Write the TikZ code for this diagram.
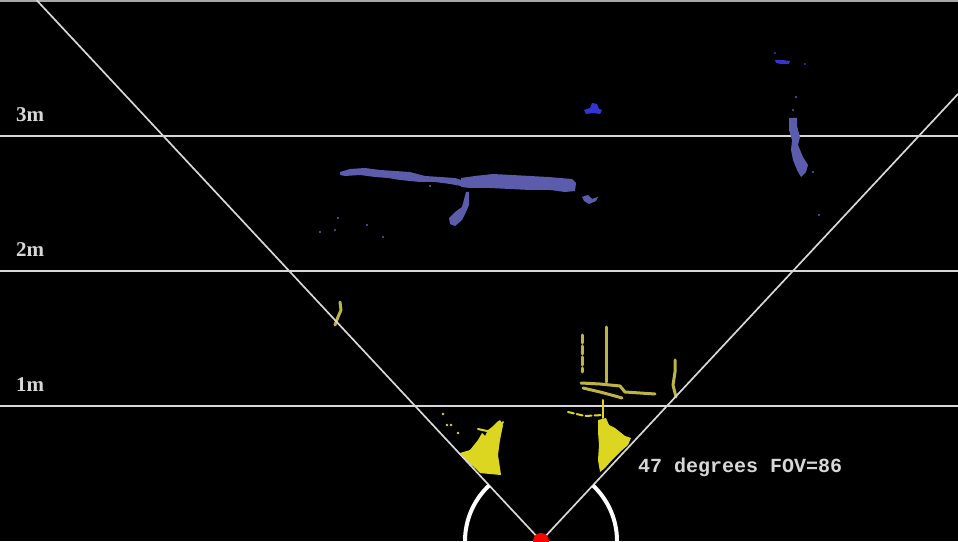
\documentclass[tikz,border=0pt]{standalone}
\usepackage{fontspec}
\setmonofont{Liberation Mono}
\newfontfamily\labelfont{Liberation Serif}
\usetikzlibrary{calc}
\definecolor{gridgray}{RGB}{215,215,215}
\definecolor{nearyellow}{RGB}{220,214,32}
\definecolor{midolive}{RGB}{190,180,70}
\definecolor{farblue}{RGB}{92,92,172}
\definecolor{deepblue}{RGB}{52,52,210}
\tikzset{
  rangeline/.style={draw=gridgray, line width=1.7pt},
  fovline/.style={draw=gridgray, line width=1.7pt},
  fovarc/.style={draw=white, line width=4pt},
  rangelabel/.style={anchor=west, inner sep=0pt, text=gridgray, font=\labelfont\bfseries\fontsize{21}{21}\selectfont},
  fovlabel/.style={anchor=west, inner sep=0pt, text=gridgray, font=\ttfamily\bfseries\fontsize{20}{20}\selectfont},
  nearpts/.style={fill=nearyellow, draw=none},
  midpts/.style={draw=midolive, line width=3pt, line cap=round, line join=round},
  farpts/.style={fill=farblue, draw=none},
  toppts/.style={fill=deepblue, draw=none},
}
\begin{document}
\begin{tikzpicture}[x=1pt, y=1pt]
  % Background
  \fill[black] (0,0) rectangle (958,541);
  \useasboundingbox (0,0) rectangle (958,541);
  \draw[draw=gray!70, line width=2pt] (0,540) -- (958,540);

  % Sensor and field of view
  \coordinate (sensor) at (541,0);
  \coordinate (fovL) at (36.5,541);
  \coordinate (fovR) at (958,447);

  % Range lines
  \coordinate (r1L) at (0,135);   \coordinate (r1R) at (958,135);
  \coordinate (r2L) at (0,270);   \coordinate (r2R) at (958,270);
  \coordinate (r3L) at (0,405);   \coordinate (r3R) at (958,405);
  \draw[rangeline] (r1L) -- (r1R);
  \draw[rangeline] (r2L) -- (r2R);
  \draw[rangeline] (r3L) -- (r3R);
  \node[rangelabel] (m1) at (16,156) {1m};
  \node[rangelabel] (m2) at (16,291) {2m};
  \node[rangelabel] (m3) at (16,426) {3m};

  % Point cloud (image coordinates)
  \begin{scope}[yshift=541pt, yscale=-1]
    % far wall
    \fill[farpts] (461,178) -- (475,176) -- (493,174) -- (512,175) -- (530,176) -- (548,177)
      -- (560,178) -- (572,179) -- (576,183) -- (575,191) -- (565,192) -- (550,190)
      -- (530,190) -- (510,189) -- (490,188) -- (470,188) -- (461,187) -- cycle;
    \fill[farpts] (340,172) -- (350,169) -- (365,168) -- (380,170) -- (395,171) -- (410,172)
      -- (425,176) -- (440,177) -- (455,178) -- (461,180) -- (461,186) -- (450,184)
      -- (435,182) -- (420,182) -- (410,181) -- (400,180) -- (388,178) -- (375,177)
      -- (360,175) -- (345,176) -- (340,175) -- cycle;
    \fill[farpts] (466,192) -- (469,192) -- (469,205) -- (466,212) -- (462,220) -- (455,226)
      -- (450,224) -- (449,218) -- (455,212) -- (462,207) -- cycle;
    \fill[farpts] (582,197) -- (588,195) -- (592,199) -- (598,197) -- (596,201) -- (589,204)
      -- (584,201) -- cycle;
    \foreach \px/\py in {338/218, 335/230, 367/225, 383/237, 320/232, 398/172, 430/186}
      \fill[farpts] (\px,\py) circle (1.2);
    % far right post
    \fill[farpts] (789,118) -- (797,118) -- (797,126) -- (800,137) -- (798,145) -- (803,157)
      -- (808,165) -- (806,172) -- (801,177) -- (797,170) -- (793,160) -- (791,150)
      -- (792,140) -- (789,130) -- cycle;
    \foreach \px/\py in {796/97, 793/110, 813/172, 819/215}
      \fill[farpts] (\px,\py) circle (1.2);
    % top blobs
    \fill[toppts] (584,110) -- (590,108) -- (592,103) -- (597,104) -- (599,109) -- (602,110)
      -- (600,114) -- (593,113) -- (586,114) -- cycle;
    \fill[toppts] (775,60) -- (782,60) -- (790,61) -- (789,64) -- (781,64) -- (776,63) -- cycle;
    \foreach \px/\py in {775/53, 805/64}
      \fill[toppts] (\px,\py) circle (1.2);
    % middle returns
    \draw[midpts] (606,327) -- (606,382);
    \draw[midpts, dash pattern=on 8pt off 3pt] (582,335) -- (582,372);
    \draw[midpts] (581,383) -- (600,384) -- (620,386) -- (625,392) -- (640,393) -- (655,394);
    \draw[midpts] (583,388) -- (600,392) -- (615,396) -- (622,398);
    \draw[midpts] (675,360) -- (675,372) -- (673,385) -- (676,397);
    \draw[midpts] (340,302) -- (341,310) -- (338,317) -- (335,325);
    % near returns
    \fill[nearpts] (460,453) -- (470,450) -- (478,440) -- (482,433) -- (485,436) -- (488,430)
      -- (492,427) -- (494,425) -- (497,422) -- (500,420) -- (503,425) -- (500,440)
      -- (498,455) -- (500,468) -- (501,475) -- (490,474) -- (480,473) -- (475,468)
      -- (468,462) -- cycle;
    \draw[midpts, draw=nearyellow, line width=2pt] (478,429) -- (487,431) -- (495,432) -- (503,422);
    \foreach \px/\py in {443/414, 447/425, 451/425, 458/433}
      \fill[nearpts] (\px,\py) circle (1.4);
    \fill[nearpts] (598,420) -- (606,418) -- (609,425) -- (615,428) -- (620,432) -- (625,436)
      -- (631,438) -- (628,445) -- (620,452) -- (612,460) -- (605,468) -- (600,472)
      -- (598,460) -- (599,445) -- (598,432) -- cycle;
    \draw[midpts, draw=nearyellow, line width=2pt] (603,400) -- (603,418);
    \draw[midpts, draw=nearyellow, line width=2pt, dash pattern=on 6pt off 3pt]
      (568,412) -- (585,416) -- (603,415);
  \end{scope}

  % Field of view
  \draw[fovline] (sensor) -- (fovL);
  \draw[fovline] (sensor) -- (fovR);
  \draw[fovarc] (sensor) ++(180:76) arc[start angle=180, end angle=133, radius=76];
  \draw[fovarc] (sensor) ++(47:76) arc[start angle=47, end angle=0, radius=76];
  \fill[red] (sensor) circle (8);
  \node[fovlabel] (fov) at (638,74) {47 degrees FOV=86};
\end{tikzpicture}
\end{document}
